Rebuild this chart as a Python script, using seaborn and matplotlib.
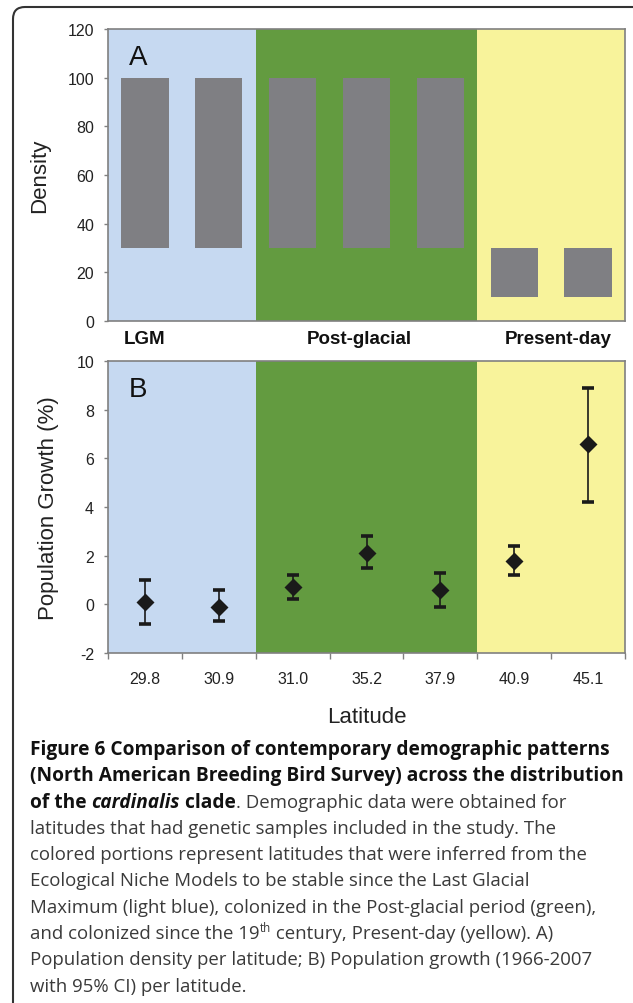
import numpy as np
import pandas as pd
import seaborn as sns
import matplotlib.pyplot as plt
from matplotlib.patches import FancyBboxPatch
from matplotlib.transforms import IdentityTransform

# data
latitudes = ["29.8", "30.9", "31.0", "35.2", "37.9", "40.9", "45.1"]
density_low = [30, 30, 30, 30, 30, 10, 10]
density_high = [100, 100, 100, 100, 100, 30, 30]
growth = [0.1, -0.1, 0.7, 2.1, 0.6, 1.8, 6.6]
growth_lo = [-0.8, -0.7, 0.2, 1.5, -0.1, 1.2, 4.2]
growth_hi = [1.0, 0.6, 1.2, 2.8, 1.3, 2.4, 8.9]
regions = ["LGM", "Post-glacial", "Present-day"]
region_bounds = [(-0.5, 1.5), (1.5, 4.5), (4.5, 6.5)]
region_label_x = [0.0, 2.9, 5.6]
region_colors = ["#C6D9F1", "#639B40", "#F8F39B"]

sns.set_style("white")
plt.rcParams["font.family"] = ["Liberation Sans", "DejaVu Sans"]
plt.rcParams["axes.unicode_minus"] = False

W, H = 633, 1004
fig = plt.figure(figsize=(W / 100, H / 100), dpi=100)

spine_col = "#808080"
txt_col = "#222222"


def style_axes(ax):
    for s in ax.spines.values():
        s.set_visible(True)
        s.set_color(spine_col)
        s.set_linewidth(1.2)
    ax.tick_params(axis="y", length=3, width=1, color=spine_col, pad=7,
                   labelsize=11.5, labelcolor=txt_col, left=True)
    for (a, b), c in zip(region_bounds, region_colors):
        ax.axvspan(a, b, color=c, lw=0, zorder=0)
    ax.set_xlim(-0.5, 6.5)


# ---- panel A: density ----
axA = fig.add_axes([108 / W, 1 - 322 / H, 517 / W, 292 / H])
dfA = pd.DataFrame({"lat": latitudes,
                    "h": np.array(density_high) - np.array(density_low)})
sns.barplot(data=dfA, x="lat", y="h", color="#7F7F83", saturation=1,
            width=0.64, bottom=density_low, edgecolor="none", ax=axA)
style_axes(axA)
axA.set_ylim(0, 120)
axA.set_yticks(range(0, 121, 20))
axA.set_xticks([])
axA.set_xlabel("")
axA.set_ylabel("Density", fontsize=16, color=txt_col)
axA.yaxis.set_label_coords(-0.112, 0.5)
axA.text(0.04, 0.905, "A", transform=axA.transAxes, fontsize=20,
         color="#111111", va="center", ha="left")
for name, xr in zip(regions, region_label_x):
    axA.text(xr, -7, name, ha="center", va="center", fontsize=13.5,
             fontweight="bold", color="#111111", clip_on=False)

# ---- panel B: growth ----
axB = fig.add_axes([108 / W, 1 - 654 / H, 517 / W, 292 / H])
pos = np.arange(len(latitudes))
axB.errorbar(pos, growth,
             yerr=[np.array(growth) - np.array(growth_lo),
                   np.array(growth_hi) - np.array(growth)],
             fmt="none", ecolor="#1a1a1a", elinewidth=1.2, capsize=4.3,
             capthick=2.6)
dfB = pd.DataFrame({"lat": latitudes, "g": growth})
sns.pointplot(data=dfB, x="lat", y="g", color="#1a1a1a", markers="D",
              linestyle="none", errorbar=None, markersize=7, ax=axB)
style_axes(axB)
axB.set_ylim(-2, 10)
axB.set_yticks(range(-2, 11, 2))
axB.set_xticks(pos)
axB.set_xticklabels(latitudes)
axB.set_xticks(np.arange(-0.5, 7, 1), minor=True)
axB.tick_params(axis="x", which="major", length=0, pad=13, labelsize=11.5,
                labelcolor=txt_col)
axB.tick_params(axis="x", which="minor", length=4, width=1, color=spine_col,
                bottom=True, direction="out")
axB.set_xlabel("Latitude", fontsize=16, color=txt_col)
axB.xaxis.set_label_coords(0.5, -0.18)
axB.set_ylabel("Population Growth (%)", fontsize=16, color=txt_col)
axB.yaxis.set_label_coords(-0.095, 0.5)
axB.text(0.04, 0.905, "B", transform=axB.transAxes, fontsize=20,
         color="#111111", va="center", ha="left")

# ---- border ----
fig.add_artist(FancyBboxPatch((13, -40), 700, H - 8 + 40,
                              boxstyle="round,pad=0,rounding_size=12",
                              transform=IdentityTransform(), fill=False,
                              ec="#333333", lw=1.5))

# ---- caption ----
cap_font = ["Open Sans", "DejaVu Sans"]
bold_size = 13.8
norm_size = 13.4
bold = dict(fontweight="bold", color="#111111")
norm = dict(fontweight="normal", color="#3a3a3a")
boldit = dict(fontweight="bold", style="italic", color="#111111")
sup = dict(fontweight="normal", color="#3a3a3a", sup=True)

caption = [
    [("Figure 6 Comparison of contemporary demographic patterns", bold)],
    [("(North American Breeding Bird Survey) across the distribution", bold)],
    [("of the ", bold), ("cardinalis", boldit), (" clade", bold),
     (". Demographic data were obtained for", norm)],
    [("latitudes that had genetic samples included in the study. The", norm)],
    [("colored portions represent latitudes that were inferred from the", norm)],
    [("Ecological Niche Models to be stable since the Last Glacial", norm)],
    [("Maximum (light blue), colonized in the Post-glacial period (green),", norm)],
    [("and colonized since the 19", norm), ("th", sup),
     (" century, Present-day (yellow). A)", norm)],
    [("Population density per latitude; B) Population growth (1966-2007", norm)],
    [("with 95% CI) per latitude.", norm)],
]

renderer = fig.canvas.get_renderer()


def seg_width(s, size, kw):
    k = {a: b for a, b in kw.items() if a not in ("sup", "color")}
    t1 = fig.text(0, 0, "|" + s + "|", fontsize=size, family=cap_font, **k)
    t2 = fig.text(0, 0, "||", fontsize=size, family=cap_font, **k)
    w = t1.get_window_extent(renderer).width - t2.get_window_extent(renderer).width
    t1.remove()
    t2.remove()
    return w


for i, line in enumerate(caption):
    x = 30.0
    y = 755 + i * 26.3
    for s, kw in line:
        base = bold_size if kw.get("fontweight") == "bold" else norm_size
        size = base * 0.62 if kw.get("sup") else base
        dy = -7 if kw.get("sup") else 0
        k = {a: b for a, b in kw.items() if a != "sup"}
        fig.text(x / W, 1 - (y + dy) / H, s, fontsize=size, family=cap_font,
                 va="baseline", ha="left", **k)
        x += seg_width(s, size, kw)

fig.savefig("out.png", dpi=100)
